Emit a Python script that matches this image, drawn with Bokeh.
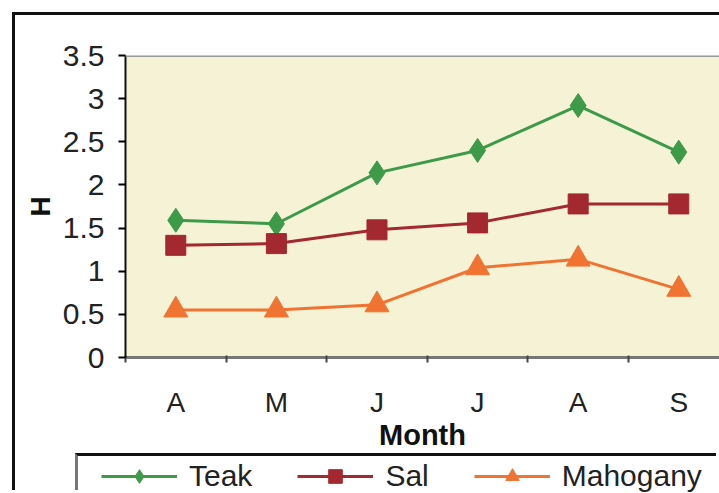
from bokeh.plotting import figure
from bokeh.layouts import column
from bokeh.models import Range1d, FixedTicker, Legend, LegendItem, Span
from bokeh.embed import file_html
from bokeh.resources import INLINE

# Monthly H values per species
months = ["A", "M", "J", "J", "A", "S"]
teak = [1.59, 1.55, 2.14, 2.40, 2.92, 2.38]
sal = [1.30, 1.32, 1.48, 1.56, 1.78, 1.78]
mahogany = [0.55, 0.55, 0.61, 1.04, 1.14, 0.79]
y_ticks = [0, 0.5, 1, 1.5, 2, 2.5, 3, 3.5]
series_names = ["Teak", "Sal", "Mahogany"]

xs = list(range(len(months)))
FONT = "Liberation Sans"
GREEN, RED, ORANGE = "#3C9A48", "#A3282F", "#F07332"

p = figure(width=704, height=438, output_backend="svg", toolbar_location=None,
           x_range=Range1d(-0.5, 5.405), y_range=Range1d(0, 3.5),
           min_border_left=110, min_border_right=0, min_border_top=40,
           min_border_bottom=96)
p.frame_align = False
p.background_fill_color = "#F6F2D6"
p.border_fill_color = "white"
p.outline_line_color = None
p.grid.visible = False

# x axis: labels at month centres, small ticks between months
p.xaxis.ticker = FixedTicker(ticks=xs, minor_ticks=[i + 0.5 for i in range(-1, 5)])
p.xaxis.major_label_overrides = {i: m for i, m in enumerate(months)}
p.xaxis.major_tick_out = 0
p.xaxis.major_tick_in = 0
p.xaxis.minor_tick_out = 5
p.xaxis.minor_tick_in = 2
p.xaxis.minor_tick_line_color = "#444"
p.xaxis.minor_tick_line_width = 2
p.xaxis.axis_line_color = "#777"
p.xaxis.axis_line_width = 3
p.xaxis.major_label_text_font = FONT
p.xaxis.major_label_text_font_size = "28px"
p.xaxis.major_label_text_color = "#222"
p.xaxis.major_label_standoff = 24
p.xaxis.axis_label = "Month"
p.xaxis.axis_label_text_font = FONT
p.xaxis.axis_label_text_font_size = "29px"
p.xaxis.axis_label_text_font_style = "bold"
p.xaxis.axis_label_text_color = "#111"
p.xaxis.axis_label_standoff = -2

# y axis
p.yaxis.ticker = FixedTicker(ticks=y_ticks)
p.yaxis.major_label_overrides = {0: "0", 1: "1", 2: "2", 3: "3"}
p.yaxis.minor_tick_line_color = None
p.yaxis.major_tick_out = 7
p.yaxis.major_tick_in = 0
p.yaxis.major_tick_line_width = 2
p.yaxis.axis_line_color = "#111"
p.yaxis.axis_line_width = 2
p.yaxis.major_label_text_font = FONT
p.yaxis.major_label_text_font_size = "30px"
p.yaxis.major_label_text_color = "#222"
p.yaxis.major_label_standoff = 14
p.yaxis.axis_label = "H"
p.yaxis.axis_label_text_font = FONT
p.yaxis.axis_label_text_font_size = "28px"
p.yaxis.axis_label_text_font_style = "bold"
p.yaxis.axis_label_text_color = "#111"
p.yaxis.axis_label_standoff = 4

# grey top edge of the plotting area
p.add_layout(Span(location=3.5, dimension="width", line_color="#999", line_width=3))

styles = [
    dict(color=GREEN, marker="diamond", size=24),
    dict(color=RED, marker="square", size=20),
    dict(color=ORANGE, marker="triangle", size=24),
]
for vals, st in zip([teak, sal, mahogany], styles):
    p.line(xs, vals, line_color=st["color"], line_width=3)
    p.scatter(xs, vals, marker=st["marker"], size=st["size"],
              fill_color=st["color"], line_color=st["color"])

# legend strip below the chart; its series sit outside the visible x range,
# only their legend samples are shown
lg = figure(width=641, height=37, output_backend="svg", toolbar_location=None,
            x_range=Range1d(100, 101), y_range=Range1d(0, 1),
            x_axis_location=None, y_axis_location=None,
            min_border=0, min_border_left=0, min_border_right=0,
            min_border_top=0, min_border_bottom=0)
lg.frame_align = False
lg.outline_line_color = None
lg.grid.visible = False
lg.background_fill_color = "white"
lg.border_fill_color = "white"

items = []
for name, vals, st in zip(series_names, [teak, sal, mahogany], styles):
    ln = lg.line(xs, vals, line_color=st["color"], line_width=3)
    mk = lg.scatter(xs, vals, marker=st["marker"], size=st["size"],
                    fill_color=st["color"], line_color=st["color"])
    items.append(LegendItem(label=name, renderers=[ln, mk]))

legend = Legend(items=items, orientation="horizontal", location=(23, 0),
                glyph_width=76, glyph_height=34, label_standoff=12, spacing=45,
                padding=2, margin=0, border_line_color=None,
                background_fill_alpha=0,
                label_text_font=FONT, label_text_font_size="30px",
                label_text_color="#222")
lg.add_layout(legend, "center")
lg.styles = {"border-top": "3px solid #111", "border-left": "3px solid #777"}
lg.margin = (0, 0, 0, 60)

page = column(p, lg, spacing=0, margin=(12, 0, 0, 12),
              styles={"border-top": "3px solid #111", "border-left": "3px solid #111",
                      "background-color": "white"})

open("out.html", "w").write(file_html(page, INLINE))
